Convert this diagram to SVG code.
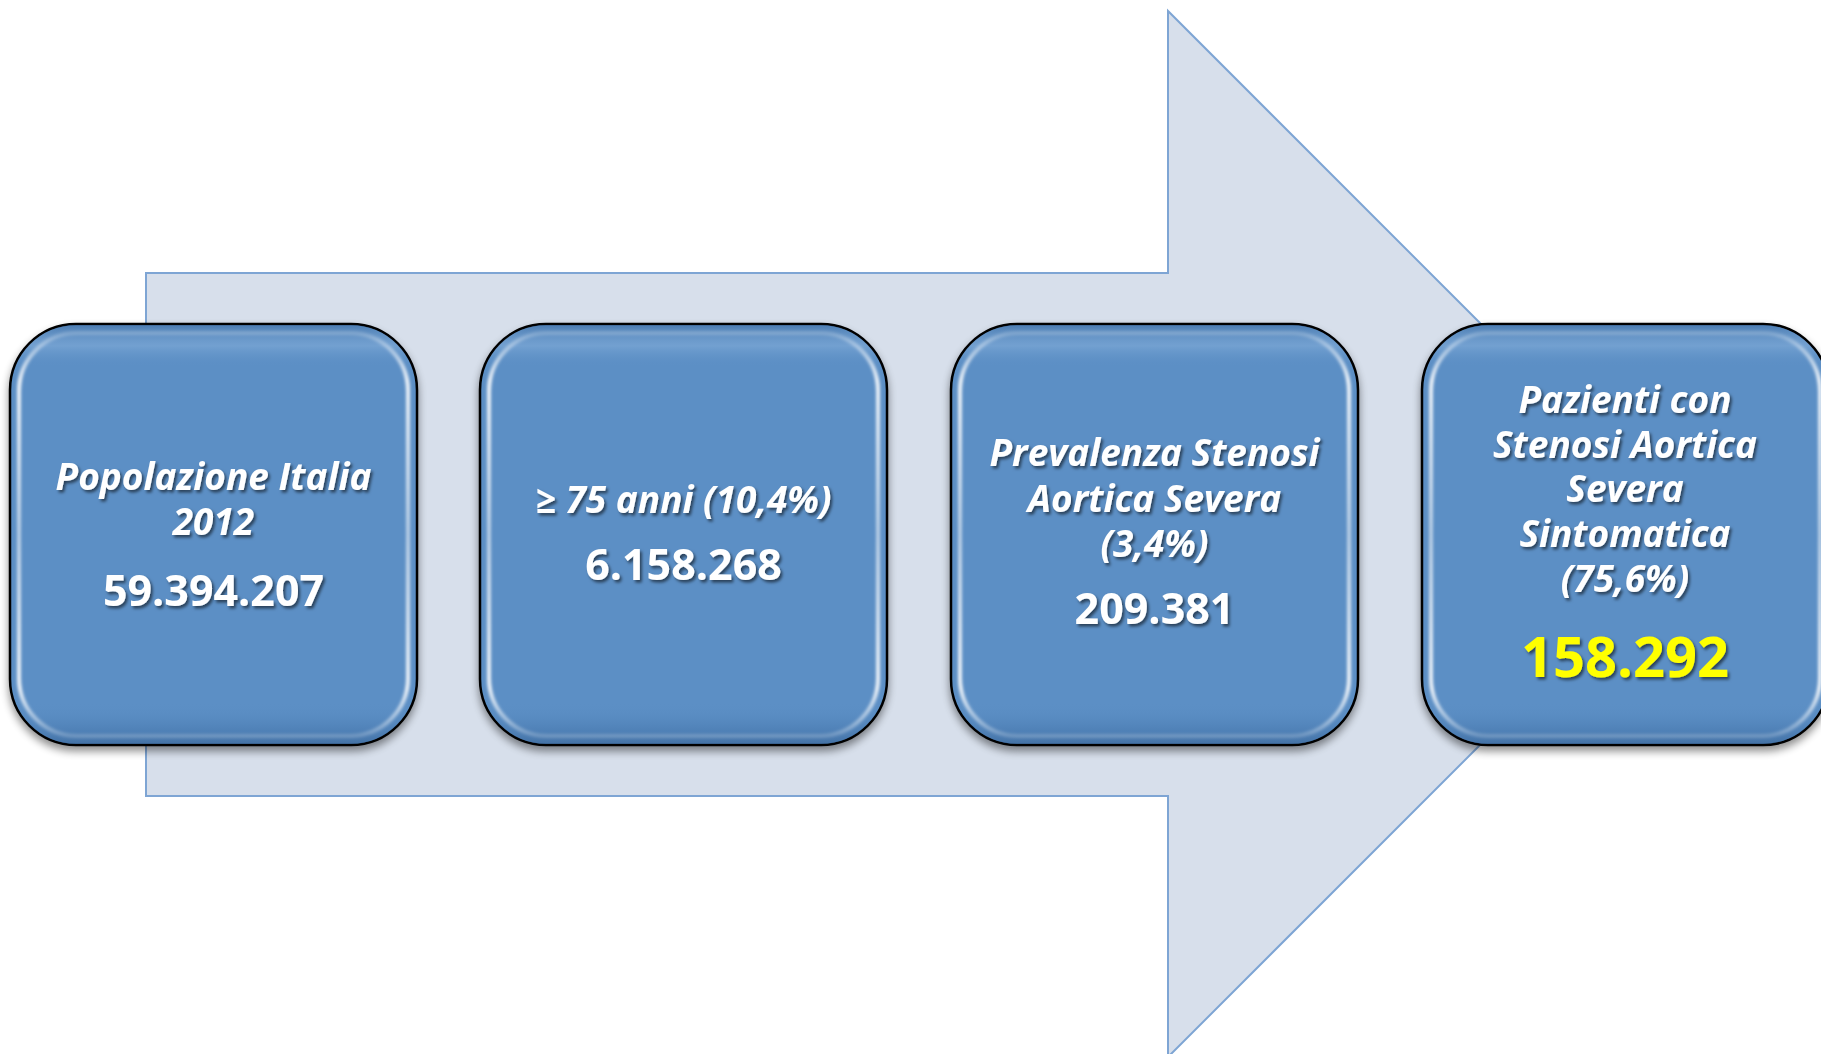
<svg xmlns="http://www.w3.org/2000/svg" width="1821" height="1054" viewBox="0 0 1821 1054">
  <defs>
    <filter id="boxShadow" x="-10%" y="-10%" width="120%" height="125%">
      <feGaussianBlur in="SourceAlpha" stdDeviation="4"/>
      <feOffset dx="0" dy="5" result="b"/>
      <feComponentTransfer><feFuncA type="linear" slope="0.45"/></feComponentTransfer>
      <feMerge><feMergeNode/><feMergeNode in="SourceGraphic"/></feMerge>
    </filter>
    <filter id="soft" x="-5%" y="-5%" width="110%" height="110%">
      <feGaussianBlur stdDeviation="1.8"/>
    </filter>
    <filter id="txtShadow" x="-10%" y="-30%" width="120%" height="160%">
      <feDropShadow dx="2" dy="2.5" stdDeviation="1.5" flood-color="#000" flood-opacity="0.55"/>
    </filter>
    <linearGradient id="edgeV" x1="0" y1="0" x2="0" y2="1">
      <stop offset="0" stop-color="#ffffff" stop-opacity="0.2"/>
      <stop offset="0.12" stop-color="#ffffff" stop-opacity="0.9"/>
      <stop offset="0.5" stop-color="#ffffff" stop-opacity="0.55"/>
      <stop offset="0.88" stop-color="#ffffff" stop-opacity="0.9"/>
      <stop offset="1" stop-color="#ffffff" stop-opacity="0.2"/>
    </linearGradient>
    <linearGradient id="topShade" x1="0" y1="0" x2="0" y2="1">
      <stop offset="0" stop-color="#3f6fa5" stop-opacity="0.55"/>
      <stop offset="0.05" stop-color="#9cc0e6" stop-opacity="0.35"/>
      <stop offset="0.1" stop-color="#5b8fc5" stop-opacity="0"/>
      <stop offset="0.9" stop-color="#5b8fc5" stop-opacity="0"/>
      <stop offset="0.96" stop-color="#3f6fa5" stop-opacity="0.35"/>
      <stop offset="1" stop-color="#2f5a8c" stop-opacity="0.55"/>
    </linearGradient>
    <style>
      .arrow { fill: #d7dfeb; stroke: #7ea5d4; stroke-width: 2; }
      .box { fill: #5b8fc5; stroke: #000; stroke-width: 2.5; }
      .shade { fill: url(#topShade); stroke: none; }
      .bevel { fill: none; stroke: url(#edgeV); stroke-width: 4; }
      .lbl { font-family: "Open Sans", Lato, "Liberation Sans", sans-serif; font-style: italic; font-weight: bold; font-size: 37px; fill: #ffffff; text-anchor: middle; }
      .num { font-family: "Open Sans", Lato, "Liberation Sans", sans-serif; font-weight: bold; font-size: 43px; fill: #ffffff; text-anchor: middle; }
      .big { font-size: 56px; fill: #ffff00; }
      .t { filter: url(#txtShadow); }
    </style>
  </defs>

  <rect x="0" y="0" width="1821" height="1054" fill="#ffffff"/>

  <g id="background-arrow">
    <path class="arrow" d="M146,273 H1168 V11 L1691,534 L1168,1057 V796 H146 Z"/>
  </g>

  <g id="connectors"></g>

  <g id="node-1">
    <g filter="url(#boxShadow)">
      <rect class="box" x="10" y="324" width="407" height="421" rx="66"/>
    </g>
    <rect class="shade" x="11" y="325" width="405" height="419" rx="65"/>
    <rect class="bevel" x="19" y="333" width="389" height="403" rx="58" filter="url(#soft)"/>
    <g class="t">
      <text class="lbl" x="213.5" y="490">Popolazione Italia</text>
      <text class="lbl" x="213.5" y="535">2012</text>
      <text class="num" x="213.5" y="606">59.394.207</text>
    </g>
  </g>

  <g id="node-2">
    <g filter="url(#boxShadow)">
      <rect class="box" x="480" y="324" width="407" height="421" rx="66"/>
    </g>
    <rect class="shade" x="481" y="325" width="405" height="419" rx="65"/>
    <rect class="bevel" x="489" y="333" width="389" height="403" rx="58" filter="url(#soft)"/>
    <g class="t">
      <text class="lbl" x="683.5" y="513">≥ 75 anni (10,4%)</text>
      <text class="num" x="683.5" y="580">6.158.268</text>
    </g>
  </g>

  <g id="node-3">
    <g filter="url(#boxShadow)">
      <rect class="box" x="951" y="324" width="407" height="421" rx="66"/>
    </g>
    <rect class="shade" x="952" y="325" width="405" height="419" rx="65"/>
    <rect class="bevel" x="960" y="333" width="389" height="403" rx="58" filter="url(#soft)"/>
    <g class="t">
      <text class="lbl" x="1154.5" y="466">Prevalenza Stenosi</text>
      <text class="lbl" x="1154.5" y="512">Aortica Severa</text>
      <text class="lbl" x="1154.5" y="557">(3,4%)</text>
      <text class="num" x="1154.5" y="624">209.381</text>
    </g>
  </g>

  <g id="node-4">
    <g filter="url(#boxShadow)">
      <rect class="box" x="1422" y="324" width="407" height="421" rx="66"/>
    </g>
    <rect class="shade" x="1423" y="325" width="405" height="419" rx="65"/>
    <rect class="bevel" x="1431" y="333" width="389" height="403" rx="58" filter="url(#soft)"/>
    <g class="t">
      <text class="lbl" x="1625" y="413">Pazienti con</text>
      <text class="lbl" x="1625" y="458">Stenosi Aortica</text>
      <text class="lbl" x="1625" y="502">Severa</text>
      <text class="lbl" x="1625" y="547">Sintomatica</text>
      <text class="lbl" x="1625" y="592">(75,6%)</text>
      <text class="num big" x="1625" y="677">158.292</text>
    </g>
  </g>
</svg>
